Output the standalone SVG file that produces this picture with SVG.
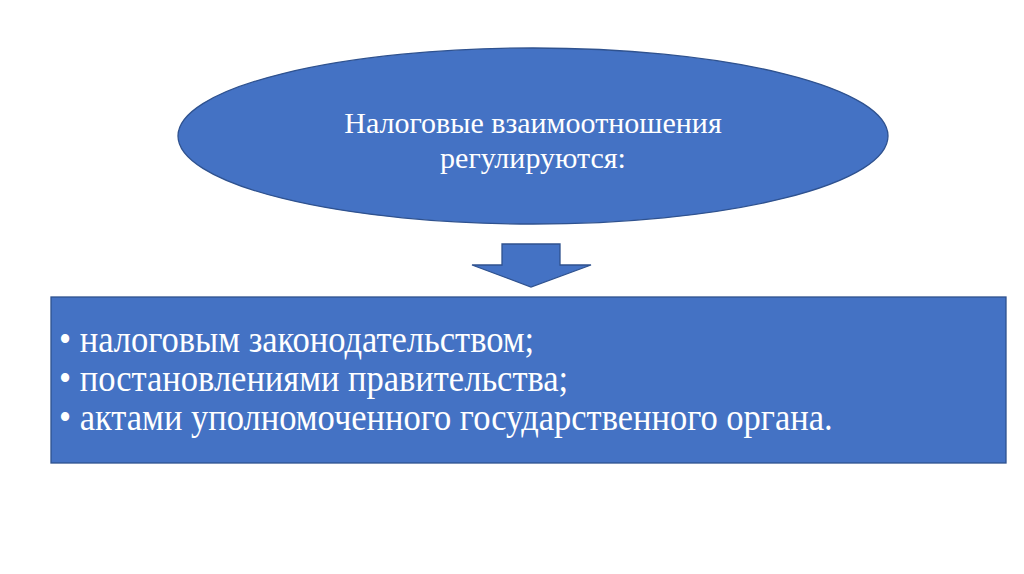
<svg xmlns="http://www.w3.org/2000/svg" width="1024" height="574" viewBox="0 0 1024 574">
<style>
.shape{fill:#4472C4;stroke:#2F528F;stroke-width:1.3}
.t{font-family:"Liberation Serif","Times New Roman",serif;fill:#FFFFFF}
.b{font-size:34.5px}
</style>
<rect width="1024" height="574" fill="#FFFFFF"/>
<g id="top-ellipse">
<ellipse class="shape" cx="533" cy="136" rx="355" ry="88"/>
<text class="t" x="533" y="133" font-size="30" text-anchor="middle">Налоговые взаимоотношения</text>
<text class="t" x="533" y="168" font-size="30" text-anchor="middle">регулируются:</text>
</g>
<g id="connectors">
<polygon class="shape" points="502,244 560,244 560,265 591,265 531,287 472,265 502,265"/>
</g>
<g id="bottom-box">
<rect class="shape" x="51" y="297" width="955" height="166"/>
<text class="t b" transform="translate(59,352) scale(1,1.08)">• налоговым законодательством;</text>
<text class="t b" transform="translate(59,391) scale(1,1.08)">• постановлениями правительства;</text>
<text class="t b" transform="translate(59,430) scale(1,1.08)">• актами уполномоченного государственного органа.</text>
</g>
</svg>
